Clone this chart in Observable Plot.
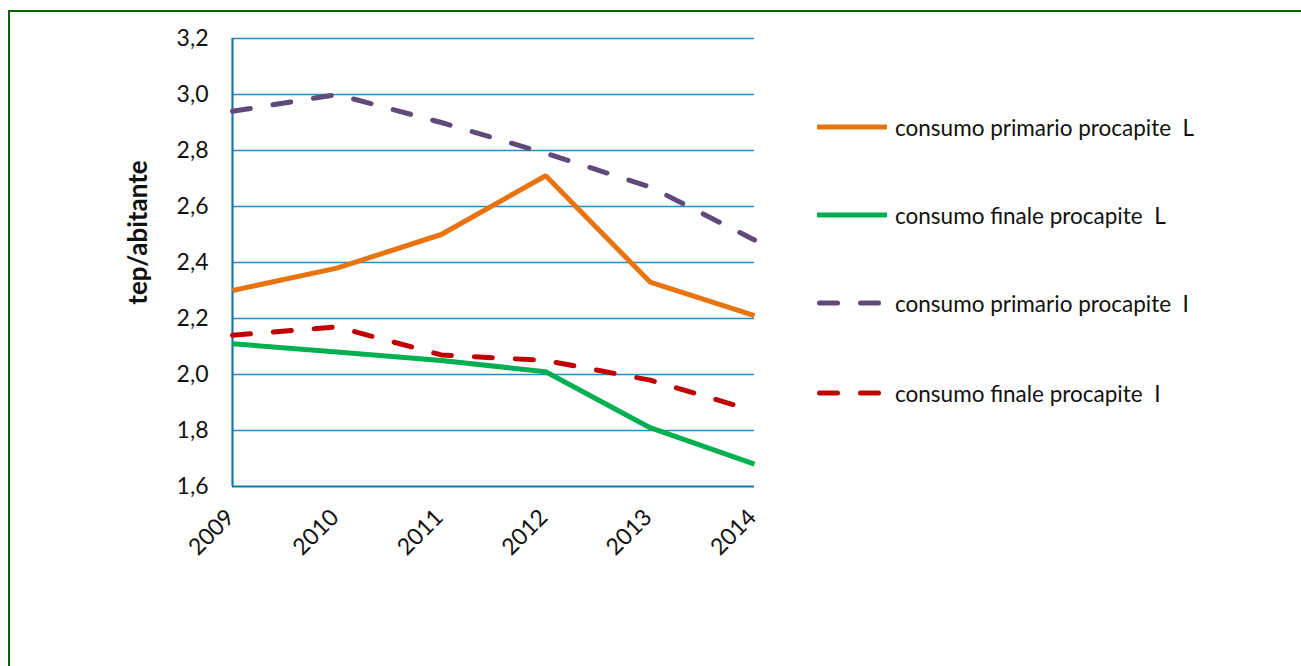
<!DOCTYPE html>
<html>
<head>
<meta charset="utf-8">
<script src="https://cdn.jsdelivr.net/npm/d3@7"></script>
<script src="https://cdn.jsdelivr.net/npm/@observablehq/plot@0.6"></script>
<style>
  html, body { margin: 0; padding: 0; background: #fff; }
  #wrap { position: relative; width: 1301px; height: 666px; overflow: hidden; font-family: Lato, "Open Sans", sans-serif; }
  #frame { position: absolute; left: 8px; top: 10px; width: 1400px; height: 700px; border-left: 2px solid #006400; border-top: 2px solid #006400; box-sizing: border-box; }
  #legend { position: absolute; left: 817px; top: 0; }
  .item { position: absolute; left: 0; display: flex; align-items: center; white-space: pre; font-size: 22.5px; color: #111; }
  .item svg { margin-right: 8px; }
</style>
</head>
<body>
<div id="wrap">
  <div id="frame"></div>
  <div id="chart"></div>
  <div id="legend"></div>
</div>
<script>
// Per-capita energy consumption, tep per inhabitant, 2009–2014
const years = [2009, 2010, 2011, 2012, 2013, 2014];
const primarioL = [2.30, 2.38, 2.50, 2.71, 2.33, 2.21];
const finaleL   = [2.11, 2.08, 2.05, 2.01, 1.81, 1.68];
const primarioI = [2.94, 3.00, 2.90, 2.79, 2.67, 2.48];
const finaleI   = [2.14, 2.17, 2.07, 2.05, 1.98, 1.87];
const yTicks = [1.6, 1.8, 2.0, 2.2, 2.4, 2.6, 2.8, 3.0, 3.2];

const series = [
  {name: "consumo primario procapite  L", values: primarioL, color: "#E8730F", dash: null},
  {name: "consumo finale procapite  L",   values: finaleL,   color: "#00B050", dash: null},
  {name: "consumo primario procapite  I", values: primarioI, color: "#604A7B", dash: "18,23"},
  {name: "consumo finale procapite  I",   values: finaleI,   color: "#C00000", dash: "18,23"}
];

const rows = series.flatMap(s => years.map((yr, i) => ({series: s.name, year: yr, value: s.values[i]})));

const axisBlue = "#1177B3";
const gridBlue = "#2A8AC4";

const lineMarks = series.map(s => Plot.line(rows.filter(r => r.series === s.name), {
  x: "year", y: "value",
  stroke: s.color, strokeWidth: 5,
  strokeDasharray: s.dash,
  strokeLinecap: s.dash ? "round" : "butt",
  strokeLinejoin: "miter"
}));

const chart = Plot.plot({
  width: 1301,
  height: 666,
  marginLeft: 232,
  marginRight: 547,
  marginTop: 38,
  marginBottom: 180,
  style: {fontFamily: "Lato, 'Open Sans', sans-serif", background: "transparent", overflow: "visible"},
  x: {type: "linear", domain: [2009, 2014], axis: null},
  y: {domain: [1.6, 3.2], axis: null},
  marks: [
    Plot.ruleY(yTicks.filter(t => t > 1.6), {y: d => d, stroke: gridBlue, strokeWidth: 1.6}),
    Plot.ruleY([1.6], {stroke: axisBlue, strokeWidth: 2.2}),
    Plot.ruleX([2009], {stroke: axisBlue, strokeWidth: 2.2}),
    // y tick labels
    Plot.text(yTicks, {
      y: d => d, frameAnchor: "left", dx: -24, textAnchor: "end",
      text: d => d.toFixed(1).replace(".", ","),
      fontSize: 23, fill: "#111"
    }),
    // x tick labels, slanted
    Plot.text(years, {
      x: d => d, frameAnchor: "bottom",
      text: d => String(d),
      rotate: -45, textAnchor: "end", lineAnchor: "middle",
      dx: -2, dy: 27, fontSize: 23, fill: "#111"
    }),
    // y axis title
    Plot.text(["tep/abitante"], {
      frameAnchor: "left", dx: -94, dy: -30, rotate: -90, textAnchor: "middle",
      text: d => d, fontSize: 26, fontWeight: "bold", fill: "#111"
    }),
    ...lineMarks
  ]
});
document.getElementById("chart").appendChild(chart);

// Legend entries, one per series, stacked on the right
const legendY = [127, 215, 303, 393];
const legend = document.getElementById("legend");
series.forEach((s, i) => {
  const item = document.createElement("div");
  item.className = "item";
  item.style.top = (legendY[i] - 15) + "px";
  item.style.height = "30px";
  const svg = d3.create("svg").attr("width", 70).attr("height", 10);
  svg.append("line")
    .attr("x1", s.dash ? 2.5 : 1).attr("x2", s.dash ? 67.5 : 69)
    .attr("y1", 5).attr("y2", 5)
    .attr("stroke", s.color).attr("stroke-width", 5)
    .attr("stroke-linecap", "round")
    .attr("stroke-dasharray", s.dash ? "18,23" : null);
  item.appendChild(svg.node());
  const label = document.createElement("span");
  label.textContent = s.name;
  item.appendChild(label);
  legend.appendChild(item);
});
</script>
</body>
</html>
